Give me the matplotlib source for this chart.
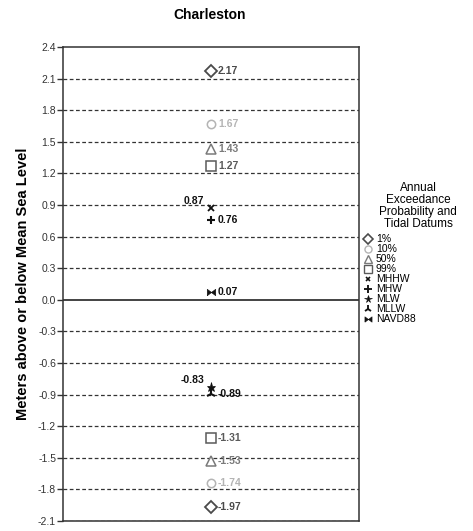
import matplotlib
matplotlib.use("Agg")
import matplotlib.pyplot as plt
from matplotlib.lines import Line2D

# Data
series = ["1%", "10%", "50%", "99%", "MHHW", "MHW", "MLW", "MLLW", "NAVD88"]
upper = [2.17, 1.67, 1.43, 1.27, 0.87, 0.76, None, None, 0.07]
lower = [-1.97, -1.74, -1.53, -1.31, None, None, -0.83, -0.89, None]
yticks = [-2.1, -1.8, -1.5, -1.2, -0.9, -0.6, -0.3, 0.0, 0.3, 0.6, 0.9, 1.2, 1.5, 1.8, 2.1, 2.4]
legend_title = "Annual\nExceedance\nProbability and\nTidal Datums"

bowtie = [(-1, -0.75), (1, 0.75), (1, -0.75), (-1, 0.75), (-1, -0.75)]
styles = {
    "1%": dict(marker="D", color="#4a4a4a", ms=6, fill=False, mew=1.3),
    "10%": dict(marker="o", color="#b4b4b4", ms=6, fill=False, mew=1.1),
    "50%": dict(marker="^", color="#7a7a7a", ms=7, fill=False, mew=1.1),
    "99%": dict(marker="s", color="#5a5a5a", ms=6.5, fill=False, mew=1.1),
    "MHHW": dict(marker="x", color="#111111", ms=4, fill=True, mew=1.3),
    "MHW": dict(marker="+", color="#111111", ms=6, fill=True, mew=1.5),
    "MLW": dict(marker="*", color="#111111", ms=6.5, fill=True, mew=0.5),
    "MLLW": dict(marker="2", color="#111111", ms=7, fill=True, mew=1.5),
    "NAVD88": dict(marker=bowtie, color="#111111", ms=6, fill=True, mew=0.5),
}
label_color = {"1%": "#4a4a4a", "10%": "#b4b4b4", "50%": "#7a7a7a", "99%": "#5a5a5a"}

plt.rcParams['font.family'] = ['Liberation Sans', 'DejaVu Sans']
fig = plt.figure(figsize=(4.73, 5.31), dpi=100)
ax = fig.add_axes([63/473, 1-521/531, 296/473, 474/531])
ax.set_xlim(-1, 1)
ax.set_ylim(-2.1, 2.4)

for yv in yticks:
    if abs(yv) < 1e-9:
        ax.axhline(yv, color="#222222", lw=1.2, zorder=1)
    elif yv < 2.39:
        ax.axhline(yv, color="#333333", lw=0.9, ls=(0, (3, 2)), zorder=1)

narrow = ['Liberation Sans Narrow', 'Liberation Sans', 'DejaVu Sans']

def draw(name, val, side="right"):
    st = styles[name]
    mfc = "white" if not st["fill"] else st["color"]
    ax.plot([0], [val], linestyle="none", marker=st["marker"], color=st["color"],
            markersize=st["ms"], markerfacecolor=mfc, markeredgewidth=st["mew"], zorder=3)
    col = label_color.get(name, "#111111")
    txt = f"{val:.2f}"
    if side == "right":
        ax.annotate(txt, (0, val), xytext=(5, 0), textcoords="offset points",
                    ha="left", va="center", fontsize=7.5, fontweight="bold", color=col,
                    family=narrow, zorder=4)
    else:
        ax.annotate(txt, (0, val), xytext=(-5, 5), textcoords="offset points",
                    ha="right", va="center", fontsize=7.5, fontweight="bold", color=col,
                    family=narrow, zorder=4)

for name, u, l in zip(series, upper, lower):
    if u is not None:
        draw(name, u, "left" if name == "MHHW" else "right")
    if l is not None:
        draw(name, l, "left" if name == "MLW" else "right")

ax.set_yticks(yticks)
ax.set_yticklabels([f"{v:.1f}" for v in yticks], fontsize=7.5, color="#333333")
ax.set_xticks([])
ax.tick_params(axis="y", length=4, width=1, color="#333333", pad=1)
for s in ax.spines.values():
    s.set_color("#333333")
    s.set_linewidth(1.1)

ax.set_ylabel("Meters above or below Mean Sea Level", fontsize=10.5, fontweight="bold", labelpad=6)
fig.text(210/473, 1-15/531, "Charleston", ha="center", va="center", fontsize=10, fontweight="bold")

fig.text(418/473, 1-206/531, legend_title, ha="center", va="center", fontsize=8.5,
         multialignment="center", linespacing=1.0)

handles = []
for name in series:
    st = styles[name]
    mfc = "white" if not st["fill"] else st["color"]
    handles.append(Line2D([], [], linestyle="none", marker=st["marker"], color=st["color"],
                          markersize=st["ms"]*0.85, markerfacecolor=mfc, markeredgewidth=st["mew"]*0.9))
leg = fig.legend(handles, series, loc="upper left", bbox_to_anchor=(357/473, 1-229/531),
                 frameon=False, fontsize=7.5, handletextpad=0.1, handlelength=1.2,
                 labelspacing=0.0, borderpad=0)

fig.savefig("out.png", dpi=100)
